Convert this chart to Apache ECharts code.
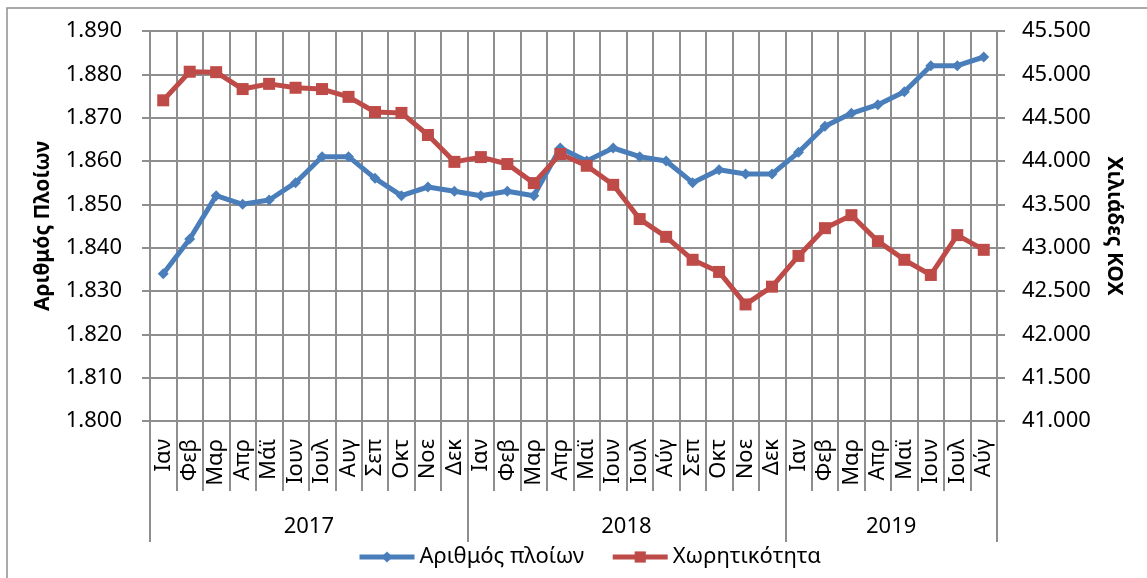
<!DOCTYPE html>
<html>
<head>
<meta charset="utf-8">
<script src="https://cdn.jsdelivr.net/npm/echarts@6/dist/echarts.min.js"></script>
<style>
  html, body { margin: 0; padding: 0; background: #fff; }
  #chart { width: 1147px; height: 578px; }
</style>
</head>
<body>
<div id="chart"></div>
<script>
// months for each year group
const years = ['2017', '2018', '2019']
const monthsPerYear = [12, 12, 8]
const months = [
  'Ιαν', 'Φεβ', 'Μαρ', 'Απρ', 'Μάϊ', 'Ιουν', 'Ιουλ', 'Αυγ', 'Σεπ', 'Οκτ', 'Νοε', 'Δεκ',
  'Ιαν', 'Φεβ', 'Μαρ', 'Απρ', 'Μαϊ', 'Ιουν', 'Ιουλ', 'Αύγ', 'Σεπ', 'Οκτ', 'Νοε', 'Δεκ',
  'Ιαν', 'Φεβ', 'Μαρ', 'Απρ', 'Μαϊ', 'Ιουν', 'Ιουλ', 'Αύγ'
]

// Αριθμός πλοίων (left axis)
const ships = [
  1834, 1842, 1852, 1850, 1851, 1855, 1861, 1861, 1856, 1852, 1854, 1853,
  1852, 1853, 1852, 1863, 1860, 1863, 1861, 1860, 1855, 1858, 1857, 1857,
  1862, 1868, 1871, 1873, 1876, 1882, 1882, 1884
]

// Χωρητικότητα σε χιλιάδες ΚΟΧ (right axis)
const capacity = [
  44700, 45030, 45025, 44830, 44890, 44845, 44830, 44740, 44565, 44555, 44300, 43990,
  44045, 43965, 43745, 44080, 43945, 43725, 43330, 43125, 42860, 42720, 42345, 42550,
  42905, 43225, 43375, 43075, 42860, 42685, 43145, 42975
]

const FONT = 'Noto Sans'
const GRID_COLOR = '#8e8e8e'

function fmt(v) {
  return String(v).replace(/\B(?=(\d{3})+(?!\d))/g, '.')
}

// year group boundaries and centres on a 0..n value scale
const yearEdges = [0]
const yearMids = []
monthsPerYear.forEach((n, i) => {
  yearMids.push(yearEdges[i] + n / 2)
  yearEdges.push(yearEdges[i] + n)
})

const chart = echarts.init(document.getElementById('chart'))

chart.setOption({
  animation: false,
  textStyle: { fontFamily: FONT },
  graphic: [{
    type: 'rect',
    shape: { x: 7, y: 8, width: 1300, height: 700 },
    style: { fill: 'none', stroke: '#8e8e8e', lineWidth: 1.5 },
    silent: true,
  }],
  grid: { left: 150, right: 150, top: 31, bottom: 157 },
  legend: {
    left: 352,
    top: 541,
    itemWidth: 55,
    itemHeight: 14,
    itemGap: 26,
    lineStyle: { width: 5 },
    textStyle: { fontFamily: FONT, fontSize: 22, color: '#000' },
    data: ['Αριθμός πλοίων', 'Χωρητικότητα'],
  },
  xAxis: [
    {
      type: 'category',
      data: months,
      boundaryGap: true,
      position: 'bottom',
      axisLine: { show: true, lineStyle: { color: GRID_COLOR, width: 2 } },
      axisTick: { show: true, interval: 0, length: 70, lineStyle: { color: GRID_COLOR, width: 2 } },
      axisLabel: { interval: 0, rotate: 90, margin: 18, fontSize: 22, color: '#000', fontFamily: FONT },
      splitLine: { show: true, interval: 0, lineStyle: { color: GRID_COLOR, width: 2 } },
    },
    {
      type: 'value',
      min: 0,
      max: yearEdges[yearEdges.length - 1],
      position: 'bottom',
      axisLine: { show: false },
      axisTick: { show: true, customValues: yearEdges, length: 121, lineStyle: { color: GRID_COLOR, width: 2 } },
      axisLabel: {
        customValues: yearMids,
        margin: 95,
        fontSize: 22,
        color: '#000',
        fontFamily: FONT,
        formatter: v => years[yearMids.indexOf(v)] || '',
      },
      splitLine: { show: false },
    },
  ],
  yAxis: [
    {
      type: 'value',
      position: 'left',
      min: 1800,
      max: 1890,
      interval: 10,
      name: 'Αριθμός Πλοίων',
      nameLocation: 'middle',
      nameGap: 96,
      nameTextStyle: { fontFamily: FONT, fontSize: 21, fontWeight: 'bold', color: '#000' },
      axisLine: { show: true, lineStyle: { color: GRID_COLOR, width: 2 } },
      axisTick: { show: true, length: 8, lineStyle: { color: GRID_COLOR, width: 2 } },
      axisLabel: { margin: 28, fontSize: 22, color: '#000', fontFamily: FONT, formatter: fmt },
      splitLine: { show: true, lineStyle: { color: GRID_COLOR, width: 2 } },
    },
    {
      type: 'value',
      position: 'right',
      min: 41000,
      max: 45500,
      interval: 500,
      name: 'Χιλιάδες ΚΟΧ',
      nameLocation: 'middle',
      nameRotate: -90,
      nameGap: 106,
      nameTextStyle: { fontFamily: FONT, fontSize: 21, fontWeight: 'bold', color: '#000' },
      axisLine: { show: true, lineStyle: { color: GRID_COLOR, width: 2 } },
      axisTick: { show: true, length: 8, lineStyle: { color: GRID_COLOR, width: 2 } },
      axisLabel: { margin: 25, fontSize: 22, color: '#000', fontFamily: FONT, formatter: fmt },
      splitLine: { show: false },
    },
  ],
  series: [
    {
      name: 'Αριθμός πλοίων',
      type: 'line',
      xAxisIndex: 0,
      yAxisIndex: 0,
      data: ships,
      symbol: 'diamond',
      symbolSize: 11,
      color: '#4a7ebb',
      lineStyle: { color: '#4a7ebb', width: 5 },
      itemStyle: { color: '#4a7ebb' },
    },
    {
      name: 'Χωρητικότητα',
      type: 'line',
      xAxisIndex: 0,
      yAxisIndex: 1,
      data: capacity,
      symbol: 'rect',
      symbolSize: 12,
      color: '#be4b48',
      lineStyle: { color: '#be4b48', width: 5 },
      itemStyle: { color: '#be4b48' },
    },
  ],
})
</script>
</body>
</html>
